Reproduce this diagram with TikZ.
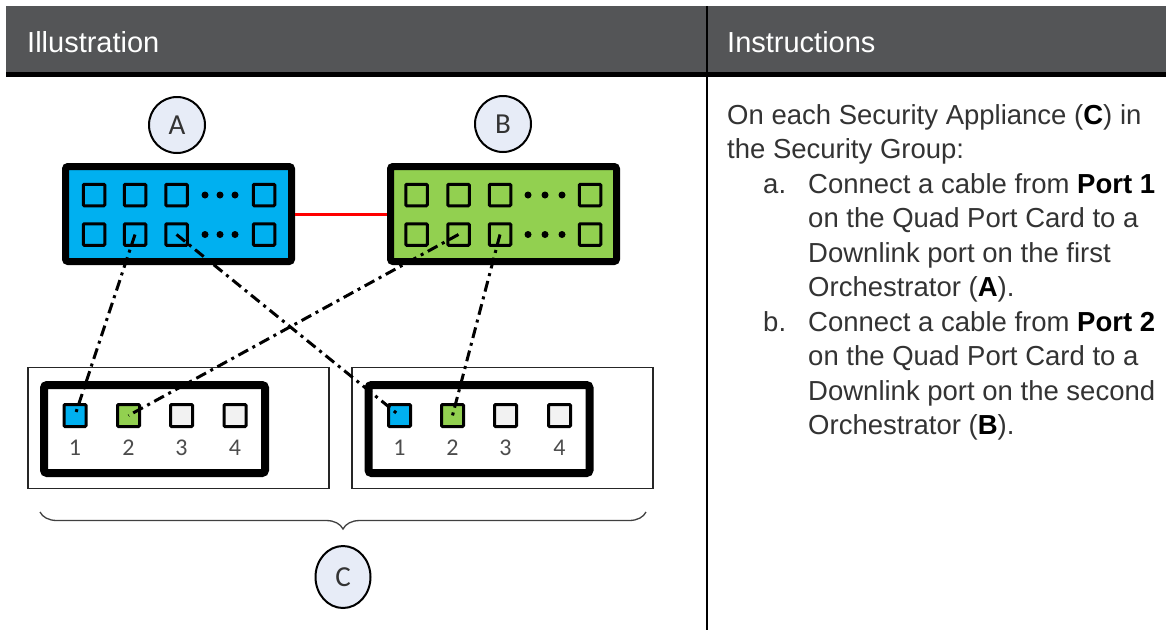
\documentclass[tikz,border=0pt]{standalone}
\usepackage{fontspec}
\setmainfont{Liberation Sans}
\newfontfamily\calib{Carlito}
\usetikzlibrary{decorations.pathreplacing,shapes.geometric}
\definecolor{hdr}{HTML}{545557}
\definecolor{ablue}{HTML}{00B0F0}
\definecolor{bgreen}{HTML}{92D050}
\definecolor{portgray}{HTML}{F2F2F2}
\definecolor{circfill}{HTML}{E7ECF7}
\definecolor{txt}{HTML}{333333}
\begin{document}
\begin{tikzpicture}[x=1pt,y=-1pt,
  chassis/.style={draw=black,line width=7pt,rounded corners=2.5pt,minimum width=226pt,minimum height=95pt,inner sep=0pt,outer sep=0pt},
  sq/.style={draw=black,line width=3pt,rounded corners=1pt,minimum size=21.5pt,inner sep=0pt},
  dotn/.style={circle,fill=black,minimum size=7pt,inner sep=0pt},
  card/.style={draw=black,line width=8pt,rounded corners=3pt,minimum width=221pt,minimum height=88pt,inner sep=0pt},
  appl/.style={draw=black!85,line width=1.3pt,minimum width=301pt,minimum height=121pt,inner sep=0pt},
  port/.style={draw=black,line width=3pt,rounded corners=1pt,minimum size=22pt,inner sep=0pt},
  plabel/.style={font=\calib\fontsize{24}{24}\selectfont,text=black!70,inner sep=0pt},
  tag/.style={circle,draw=black,line width=2pt,fill=circfill,minimum size=56pt,inner sep=0pt,font=\calib\fontsize{29}{29}\selectfont,text=txt},
  cable/.style={line width=3pt,dash pattern=on 11pt off 5pt on 3pt off 5pt},
  body/.style={anchor=base west,inner sep=0pt,text=txt,font=\fontsize{27.5}{33}\selectfont},
  head/.style={anchor=base west,inner sep=0pt,text=white,font=\fontsize{29}{33}\selectfont},
]
\useasboundingbox (0,0) rectangle (1166,630);
\fill[white] (0,0) rectangle (1166,630);
% table header
\fill[hdr] (6,6) rectangle (1166,72);
\fill[black] (6,72) rectangle (1166,77);
\draw[black,line width=2pt] (707,6) -- (707,630);
\node[head] (h1) at (27,52) {Illustration};
\node[head] (h2) at (727,52) {Instructions};

% orchestrator tags
\node[tag] (tA) at (177,125) {A};
\node[tag] (tB) at (503,124) {B};

% orchestrators
\node[chassis,fill=ablue] (orchA) at (178.5,214) {};
\node[chassis,fill=bgreen] (orchB) at (503.5,214) {};
\draw[red,line width=3pt,shorten <=3.5pt,shorten >=3.5pt] (orchA.east) -- (orchB.west);

\foreach \r/\y in {1/195,2/234.5}{
  \foreach \n/\x in {1/94,2/135,3/176.5,4/264}{
    \node[sq] (a\r\n) at (\x,\y) {};
  }
  \foreach \n/\x in {1/205,2/220,3/235}{
    \node[dotn] (ad\r\n) at (\x,\y) {};
  }
  \foreach \n/\x in {1/416.5,2/458.5,3/500,4/590}{
    \node[sq] (b\r\n) at (\x,\y) {};
  }
  \foreach \n/\x in {1/528,2/545,3/562}{
    \node[dotn] (bd\r\n) at (\x,\y) {};
  }
}

% security appliances
\node[appl] (sa1) at (178.5,428) {};
\node[appl] (sa2) at (502.5,428) {};
\node[card] (qc1) at (154.5,429) {};
\node[card] (qc2) at (479,429) {};
\foreach \n/\x/\c in {1/75/ablue,2/128.5/bgreen,3/181.5/portgray,4/235/portgray}{
  \node[port,fill=\c] (p1\n) at (\x,415.5) {};
  \node[plabel] (l1\n) at (\x,448) {\n};
}
\foreach \n/\x/\c in {1/399.5/ablue,2/452.5/bgreen,3/505.5/portgray,4/559.5/portgray}{
  \node[port,fill=\c] (p2\n) at (\x,415.5) {};
  \node[plabel] (l2\n) at (\x,448) {\n};
}

% cables
\draw[cable] (a22.center) -- (p11.center);
\draw[cable] (a23.center) -- (p21.center);
\draw[cable] (b22.center) -- (p12.center);
\draw[cable] (b23.center) -- (p22.center);

% brace and tag C
\coordinate (brL) at (40,512);
\coordinate (brR) at (646,512);
\draw[decorate,decoration={brace,mirror,amplitude=17pt},line width=1.3pt,draw=black!75] (brL) -- (brR);
\node[tag,ellipse,minimum width=55pt,minimum height=62pt] (tC) at (343,577) {C};

% instructions
\node[body] (t1) at (727,124) {On each Security Appliance (\textcolor{black}{\bfseries C}) in};
\node[body] (t2) at (727,158.5) {the Security Group:};
\node[body] (t3a) at (763,193) {a.};
\node[body] (t3) at (808,193) {Connect a cable from \textcolor{black}{\bfseries Port 1}};
\node[body] (t4) at (808,227.5) {on the Quad Port Card to a};
\node[body] (t5) at (808,262) {Downlink port on the first};
\node[body] (t6) at (808,296.5) {Orchestrator (\textcolor{black}{\bfseries A}).};
\node[body] (t7a) at (763,331) {b.};
\node[body] (t7) at (808,331) {Connect a cable from \textcolor{black}{\bfseries Port 2}};
\node[body] (t8) at (808,365.5) {on the Quad Port Card to a};
\node[body] (t9) at (808,400) {Downlink port on the second};
\node[body] (t10) at (808,434.5) {Orchestrator (\textcolor{black}{\bfseries B}).};
\end{tikzpicture}
\end{document}
